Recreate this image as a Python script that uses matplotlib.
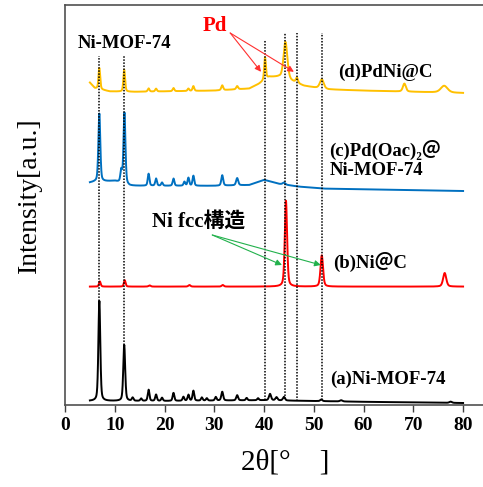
#!/usr/bin/env python3
# XRD patterns of Ni-MOF-74 derived samples, stacked with offsets
import numpy as np
import matplotlib
matplotlib.use("Agg")
import matplotlib.pyplot as plt

SERIF = ["Liberation Serif", "Noto Sans CJK JP", "DejaVu Sans"]

two_theta = np.linspace(5, 80, 3000)

# (a) Ni-MOF-74 : baseline knots, then peaks (position, height, fwhm)
a_base_x = [5, 10, 20, 40, 60, 80]
a_base_y = [1.0, 1.0, 1.0, 1.2, 0.8, 0.5]
a_pos = [6.9, 11.9, 13.6, 15.3, 16.8, 18.3, 19.5, 21.8, 23.8, 24.8, 25.8, 27.5, 28.5,
         30.3, 31.6, 34.6, 36.5, 38.8, 41.2, 42.5, 44.0, 51.5, 55.5, 77.5]
a_hgt = [25.0, 14.0, 0.8, 0.6, 2.8, 1.6, 0.8, 2.0, 1.0, 1.5, 2.5, 0.8, 0.6,
         0.9, 2.2, 1.3, 0.6, 0.5, 1.6, 0.8, 0.9, 0.4, 0.3, 0.3]
a_fwhm = [0.45, 0.45, 0.4, 0.4, 0.4, 0.4, 0.4, 0.4, 0.4, 0.4, 0.4, 0.4, 0.4,
          0.4, 0.45, 0.45, 0.4, 0.4, 0.5, 0.5, 0.5, 0.5, 0.6, 0.6]

# (b) Ni@C
b_base_x = [5, 80]
b_base_y = [29.6, 29.6]
b_pos = [7.0, 12.0, 17.0, 25.0, 31.7, 44.4, 51.6, 76.3]
b_hgt = [1.3, 1.6, 0.3, 0.4, 0.4, 21.5, 7.8, 3.4]
b_fwhm = [0.4, 0.4, 0.5, 0.5, 0.5, 0.55, 0.6, 0.75]

# (c) Pd(OAc)2@Ni-MOF-74
c_base_x = [5, 6, 10, 13, 30, 37, 40, 43, 47, 52, 80]
c_base_y = [55.6, 55.8, 56.0, 54.8, 54.8, 55.0, 56.3, 55.3, 54.6, 54.1, 53.5]
c_pos = [6.9, 11.3, 11.95, 16.8, 18.3, 19.5, 21.8, 24.0, 24.8, 25.8, 31.6, 34.6, 44.0]
c_hgt = [17.0, 3.0, 17.8, 3.0, 1.8, 0.8, 1.8, 1.0, 2.0, 2.5, 2.6, 1.8, 0.5]
c_fwhm = [0.45, 0.4, 0.45, 0.4, 0.4, 0.4, 0.4, 0.4, 0.4, 0.4, 0.45, 0.5, 0.6]

# (d) PdNi@C
d_base_x = [5, 6, 9, 14, 30, 37, 39, 41, 43, 45, 48, 50, 53, 60, 80]
d_base_y = [80.6, 79.2, 78.4, 78.3, 78.6, 79.1, 80.3, 82.0, 82.0, 81.2, 79.8, 79.4, 78.9, 78.6, 78.0]
d_pos = [6.9, 11.9, 16.8, 18.3, 21.8, 24.8, 25.8, 31.6, 34.6, 40.2, 44.3, 46.6, 51.6, 68.2, 76.2]
d_hgt = [5.3, 5.5, 0.8, 0.7, 0.8, 0.6, 1.2, 1.2, 0.8, 5.6, 9.3, 1.3, 2.3, 2.0, 1.7]
d_fwhm = [0.4, 0.4, 0.4, 0.4, 0.4, 0.4, 0.4, 0.45, 0.45, 0.4, 0.9, 0.5, 0.9, 0.7, 1.6]

# reference lines: position, top of line
ref_pos = [6.9, 11.9, 40.2, 44.3, 46.6, 51.6]
ref_top = [87.3, 87.3, 91.3, 93.0, 93.0, 93.0]


def pattern(bx, by, pos, hgt, fwhm, eta=0.4):
    y = np.interp(two_theta, bx, by)
    for p, h, w in zip(pos, hgt, fwhm):
        d = (two_theta - p) / (w / 2)
        gauss = np.exp(-np.log(2) * d ** 2)
        lor = 1 / (1 + d ** 2)
        y = y + h * ((1 - eta) * gauss + eta * lor)
    return y


ya = pattern(a_base_x, a_base_y, a_pos, a_hgt, a_fwhm)
yb = pattern(b_base_x, b_base_y, b_pos, b_hgt, b_fwhm)
yc = pattern(c_base_x, c_base_y, c_pos, c_hgt, c_fwhm)
yd = pattern(d_base_x, d_base_y, d_pos, d_hgt, d_fwhm)

fig = plt.figure(figsize=(4.83, 4.87), dpi=100)
ax = fig.add_axes([65 / 483, 82 / 487, 418 / 483, 400 / 487])

ax.plot(two_theta, ya, color="black", lw=1.4, zorder=2)
ax.plot(two_theta, yb, color="#ff0000", lw=1.4, zorder=2)
ax.plot(two_theta, yc, color="#0070c0", lw=1.4, zorder=2)
ax.plot(two_theta, yd, color="#ffc000", lw=1.4, zorder=2)

for p, t in zip(ref_pos, ref_top):
    bottom = np.interp(p, two_theta, ya)
    ax.plot([p, p], [bottom, t], color="black", lw=1.1, ls=(0, (1, 1)), zorder=3)

bold = dict(family=SERIF, fontweight="bold", fontsize=13.5)
ax.text(2.6, 90.5, "Ni-MOF-74", va="center", ha="left", **bold)
ax.text(54.9, 83.2, "(d)PdNi@C", va="center", ha="left", **bold)
ax.text(53.1, 61.5, "(c)Pd(Oac)\u2082\uff20\nNi-MOF-74", va="center", ha="left",
        linespacing=1.15, **bold)
ax.text(53.9, 35.8, "(b)Ni\uff20C", va="center", ha="left", **bold)
ax.text(53.3, 6.3, "(a)Ni-MOF-74", va="center", ha="left", **bold)
ax.text(17.5, 45.8, "Ni fcc構造", va="center", ha="left",
        family=SERIF, fontweight="bold", fontsize=15)
ax.text(27.7, 94.8, "Pd", va="center", ha="left", color="red",
        family=SERIF, fontweight="bold", fontsize=15)

red_arrow = dict(arrowstyle="-|>", color="#ff3030", lw=0.8, mutation_scale=9, shrinkA=0, shrinkB=0)
ax.annotate("", xy=(39.4, 83.3), xytext=(33.2, 93.0), arrowprops=red_arrow)
ax.annotate("", xy=(46.0, 83.3), xytext=(33.2, 93.0), arrowprops=red_arrow)

green_arrow = dict(arrowstyle="-|>", color="#22b14c", lw=0.8, mutation_scale=9, shrinkA=0, shrinkB=0)
ax.annotate("", xy=(43.6, 35.0), xytext=(29.6, 42.5), arrowprops=green_arrow)
ax.annotate("", xy=(51.4, 35.0), xytext=(29.6, 42.5), arrowprops=green_arrow)

ax.set_xlim(0, 84)
ax.set_ylim(0, 100)
ax.set_xticks(range(0, 81, 10))
ax.set_yticks([])
ax.tick_params(axis="x", direction="out", length=5, width=1, color="#404040", pad=4)
for lbl in ax.get_xticklabels():
    lbl.set_fontfamily(SERIF)
    lbl.set_fontweight("bold")
    lbl.set_fontsize(14)
for side in ["left", "bottom", "top"]:
    ax.spines[side].set_color("#505050")
    ax.spines[side].set_linewidth(1.2)
ax.spines["right"].set_visible(False)

ax.set_xlabel("2θ[°\u3000]", family=SERIF, fontsize=21)
ax.xaxis.set_label_coords(0.526, -0.11)
ax.xaxis.label.set_va("top")
ax.set_ylabel("Intensity[a.u.]", family=SERIF, fontsize=20)
ax.yaxis.set_label_coords(-0.055, 0.525)

fig.savefig("out.png", dpi=100)
